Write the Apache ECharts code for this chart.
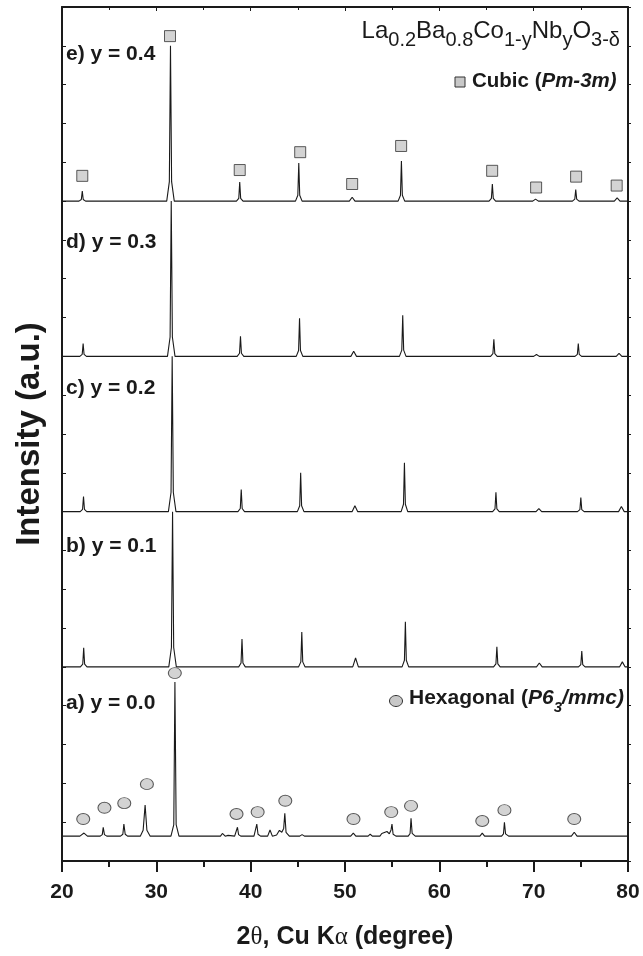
<!DOCTYPE html>
<html>
<head>
<meta charset="utf-8">
<script src="https://cdn.jsdelivr.net/npm/echarts@6/dist/echarts.min.js"></script>
<style>
html,body{margin:0;padding:0;background:#fff;}
#chart{width:643px;height:956px;}
</style>
</head>
<body>
<div id="chart"></div>
<script>
// ---- data (2theta in degrees, intensity in a.u. relative to each trace's baseline) ----
const xTickValues = [20, 30, 40, 50, 60, 70, 80];
const traceNames = ['a) y = 0.0', 'b) y = 0.1', 'c) y = 0.2', 'd) y = 0.3', 'e) y = 0.4'];
const traceOffsets = [0.64, 5, 9, 13, 17];

const traceA = [[20,0],[21.9,0],[22.33,0.08],[22.7,0],
  [24.05,0],[24.27,0.04],[24.37,0.23],[24.5,0.04],[24.75,0],
  [26.2,0],[26.45,0.05],[26.56,0.31],[26.7,0.05],[26.95,0],
  [28.3,0],[28.6,0.15],[28.81,0.8],[29.0,0.15],[29.35,0],
  [31.55,0],[31.85,0.3],[31.97,3.97],[32.1,0.3],[32.4,0],
  [36.8,0],[37.0,0.07],[37.3,0],[37.6,0.02],
  [38.3,0],[38.5,0.04],[38.6,0.23],[38.72,0.04],[38.95,0],
  [40.35,0],[40.55,0.05],[40.65,0.31],[40.78,0.05],[41.05,0],
  [41.8,0],[42.05,0.16],[42.3,0],
  [42.75,0.03],[43.05,0.15],[43.3,0.1],[43.5,0.2],[43.62,0.59],[43.75,0.1],[44.1,0],
  [45.2,0],[45.45,0.04],[45.7,0],
  [50.6,0],[50.88,0.08],[51.15,0],
  [52.45,0],[52.67,0.05],[52.9,0],
  [53.7,0],[53.9,0.07],[54.1,0.02],[54.45,0.12],[54.7,0.06],[54.88,0.16],[54.98,0.31],[55.1,0.05],[55.4,0],
  [56.7,0],[56.9,0.07],[57.0,0.46],[57.12,0.07],[57.45,0],
  [64.3,0],[64.55,0.08],[64.8,0],
  [66.6,0],[66.8,0.06],[66.9,0.36],[67.02,0.06],[67.35,0],
  [69.0,0],[69.2,0.03],[69.5,0],
  [74.0,0],[74.3,0.1],[74.6,0],[80,0]];

const traceB = [[20,0],[21.95,0],[22.2,0.07],[22.3,0.49],[22.4,0.07],[22.65,0],
  [31.32,0],[31.6,0.5],[31.72,4.0],[31.84,0.5],[32.12,0],
  [38.73,0],[38.98,0.1],[39.08,0.72],[39.18,0.1],[39.43,0],
  [45.07,0],[45.32,0.13],[45.42,0.9],[45.52,0.13],[45.77,0],
  [50.82,0],[51.12,0.23],[51.42,0],[53.5,0],
  [56.05,0],[56.3,0.17],[56.4,1.16],[56.5,0.17],[56.75,0],
  [65.75,0],[66.0,0.08],[66.1,0.52],[66.2,0.08],[66.45,0],
  [70.3,0],[70.6,0.1],[70.9,0],
  [74.75,0],[75.0,0.06],[75.1,0.41],[75.2,0.06],[75.45,0],
  [79.1,0],[79.4,0.13],[79.7,0],[80,0]];

const traceC = [[20,0],[21.93,0],[22.18,0.06],[22.28,0.39],[22.38,0.06],[22.63,0],
  [31.28,0],[31.56,0.5],[31.68,4.0],[31.8,0.5],[32.08,0],
  [38.65,0],[38.9,0.08],[39.0,0.57],[39.1,0.08],[39.35,0],
  [44.95,0],[45.2,0.15],[45.3,1.0],[45.4,0.15],[45.65,0],
  [50.75,0],[51.05,0.15],[51.35,0],
  [55.95,0],[56.2,0.19],[56.3,1.26],[56.4,0.19],[56.65,0],
  [65.65,0],[65.9,0.07],[66.0,0.5],[66.1,0.07],[66.35,0],
  [70.25,0],[70.55,0.08],[70.85,0],
  [74.65,0],[74.9,0.05],[75.0,0.36],[75.1,0.05],[75.35,0],
  [79.0,0],[79.3,0.13],[79.6,0],[80,0]];

const traceD = [[20,0],[21.89,0],[22.14,0.05],[22.24,0.33],[22.34,0.05],[22.59,0],
  [31.18,0],[31.46,0.5],[31.58,4.0],[31.7,0.5],[31.98,0],
  [38.57,0],[38.82,0.08],[38.92,0.52],[39.02,0.08],[39.27,0],
  [44.83,0],[45.08,0.15],[45.18,0.98],[45.28,0.15],[45.53,0],
  [50.62,0],[50.92,0.13],[51.22,0],
  [55.77,0],[56.02,0.16],[56.12,1.06],[56.22,0.16],[56.47,0],
  [65.43,0],[65.68,0.07],[65.78,0.44],[65.88,0.07],[66.13,0],
  [70.0,0],[70.3,0.05],[70.6,0],
  [74.38,0],[74.63,0.05],[74.73,0.33],[74.83,0.05],[75.08,0],
  [78.75,0],[79.05,0.08],[79.35,0],[80,0]];

const traceE = [[20,0],[21.8,0],[22.05,0.04],[22.15,0.26],[22.25,0.04],[22.5,0],
  [31.1,0],[31.38,0.5],[31.5,4.0],[31.62,0.5],[31.9,0],
  [38.49,0],[38.74,0.07],[38.84,0.49],[38.94,0.07],[39.19,0],
  [44.75,0],[45.0,0.15],[45.1,0.98],[45.2,0.15],[45.45,0],
  [50.46,0],[50.76,0.1],[51.06,0],
  [55.63,0],[55.88,0.15],[55.98,1.03],[56.08,0.15],[56.33,0],
  [65.27,0],[65.52,0.07],[65.62,0.44],[65.72,0.07],[65.97,0],
  [69.9,0],[70.2,0.05],[70.5,0],
  [74.11,0],[74.36,0.05],[74.46,0.3],[74.56,0.05],[74.81,0],
  [78.55,0],[78.85,0.08],[79.15,0],[80,0]];

// phase markers
const cubicX = [22.15, 31.45, 38.84, 45.25, 50.76, 55.95, 65.6, 70.26, 74.5, 78.8];
const cubicY = [17.65, 21.25, 17.8, 18.26, 17.44, 18.42, 17.78, 17.35, 17.63, 17.4];
const hexX = [22.25, 24.5, 26.6, 29.0, 31.96, 38.5, 40.74, 43.67, 50.9, 54.9, 57.0, 64.55, 66.9, 74.3];
const hexY = [1.08, 1.37, 1.49, 1.98, 4.84, 1.21, 1.26, 1.55, 1.08, 1.26, 1.42, 1.03, 1.31, 1.08];

// ---- chart ----
const FONT = '"Liberation Sans", Arial, Helvetica, sans-serif';
const traces = [traceA, traceB, traceC, traceD, traceE];
const ellipse = 'path://M0,5.5A6.5,5.5 0 1 0 13,5.5A6.5,5.5 0 1 0 0,5.5Z';

const lineSeries = traces.map((t, i) => ({
  type: 'line',
  name: traceNames[i],
  data: t.map(p => [p[0], p[1] + traceOffsets[i]]),
  showSymbol: false,
  symbol: 'none',
  lineStyle: { color: '#1a1a1a', width: 1.1 },
  z: 2,
  animation: false
}));

const chart = echarts.init(document.getElementById('chart'), null, { renderer: 'canvas' });

const labelYs = [705, 548, 390, 244, 56];

const option = {
  animation: false,
  backgroundColor: '#ffffff',
  grid: { left: 62, right: 15, top: 7, bottom: 95, containLabel: false },
  xAxis: [{
    type: 'value', position: 'bottom', min: 20, max: 80, interval: 10,
    axisLine: { show: true, onZero: false, lineStyle: { color: '#1a1a1a', width: 2 } },
    axisTick: { show: true, inside: false, length: 11, lineStyle: { color: '#1a1a1a', width: 2 } },
    minorTick: { show: true, splitNumber: 2, length: 6, lineStyle: { color: '#1a1a1a', width: 2 } },
    splitLine: { show: false },
    axisLabel: { fontFamily: FONT, fontWeight: 'bold', fontSize: 21, color: '#1a1a1a', margin: 21 },
    name: '{b|2}{s|θ}{b|, Cu K}{s|α}{b| (degree)}',
    nameLocation: 'middle', nameGap: 64,
    nameTextStyle: {
      rich: {
        b: { fontFamily: FONT, fontWeight: 'bold', fontSize: 25, color: '#1a1a1a' },
        s: { fontFamily: '"Liberation Serif", "DejaVu Serif", serif', fontSize: 25, color: '#1a1a1a' }
      }
    }
  }, {
    type: 'value', position: 'top', min: 20, max: 80, interval: 10,
    axisLine: { show: true, onZero: false, lineStyle: { color: '#1a1a1a', width: 2 } },
    axisTick: { show: true, inside: true, length: 4, lineStyle: { color: '#1a1a1a', width: 1 } },
    minorTick: { show: true, splitNumber: 2, length: 3, lineStyle: { color: '#1a1a1a', width: 1 } },
    splitLine: { show: false },
    axisLabel: { show: false }
  }],
  yAxis: [{
    type: 'value', position: 'left', min: 0, max: 22, interval: 1,
    axisLine: { show: true, onZero: false, lineStyle: { color: '#1a1a1a', width: 2 } },
    axisTick: { show: true, inside: true, length: 4, lineStyle: { color: '#1a1a1a', width: 1 } },
    splitLine: { show: false },
    axisLabel: { show: false },
    name: 'Intensity (a.u.)',
    nameLocation: 'middle', nameGap: 16, nameRotate: 90,
    nameTextStyle: { fontFamily: FONT, fontWeight: 'bold', fontSize: 33, color: '#1a1a1a' }
  }, {
    type: 'value', position: 'right', min: 0, max: 22, interval: 1,
    axisLine: { show: true, onZero: false, lineStyle: { color: '#1a1a1a', width: 2 } },
    axisTick: { show: true, inside: false, length: 3, lineStyle: { color: '#1a1a1a', width: 1 } },
    splitLine: { show: false },
    axisLabel: { show: false }
  }],
  series: lineSeries.concat([
    {
      type: 'scatter', name: 'Cubic (Pm-3m)',
      data: cubicX.map((x, i) => [x, cubicY[i]]),
      symbol: 'rect', symbolSize: [11, 11],
      itemStyle: { color: '#c8c8c8', borderColor: '#333', borderWidth: 1 },
      z: 4
    },
    {
      type: 'scatter', name: 'Hexagonal (P63/mmc)',
      data: hexX.map((x, i) => [x, hexY[i]]),
      symbol: ellipse, symbolSize: [13, 11],
      itemStyle: { color: '#c8c8c8', borderColor: '#333', borderWidth: 1 },
      z: 4
    }
  ]),
  graphic: traceNames.map((n, i) => ({
    type: 'text', left: 66, top: labelYs[i] - 12,
    style: { text: n, fontFamily: FONT, fontWeight: 'bold', fontSize: 21, fill: '#1a1a1a' },
    z: 10
  })).concat([
    {
      type: 'text', right: 23, top: 19,
      style: {
        text: '{m|La}{s|0.2}{m|Ba}{s|0.8}{m|Co}{s|1-y}{m|Nb}{s|y}{m|O}{s|3-δ}',
        rich: {
          m: { fontFamily: FONT, fontSize: 24, fill: '#1a1a1a', verticalAlign: 'top', lineHeight: 27 },
          s: { fontFamily: FONT, fontSize: 20, fill: '#1a1a1a', verticalAlign: 'top', lineHeight: 23, padding: [11, 0, 0, 0] }
        }
      },
      z: 10
    },
    {
      type: 'rect', shape: { x: 455, y: 77, width: 10, height: 10 },
      style: { fill: '#c8c8c8', stroke: '#333', lineWidth: 1 }, z: 10
    },
    {
      type: 'text', left: 472, top: 71,
      style: {
        text: '{b|Cubic (}{i|Pm-3m)}',
        rich: {
          b: { fontFamily: FONT, fontWeight: 'bold', fontSize: 20.5, fill: '#1a1a1a' },
          i: { fontFamily: FONT, fontWeight: 'bold', fontStyle: 'italic', fontSize: 20.5, fill: '#1a1a1a' }
        }
      },
      z: 10
    },
    {
      type: 'ellipse', shape: { cx: 396, cy: 701, rx: 6.5, ry: 5.5 },
      style: { fill: '#c8c8c8', stroke: '#333', lineWidth: 1 }, z: 10
    },
    {
      type: 'text', left: 409, top: 688,
      style: {
        text: '{b|Hexagonal (}{i|P6}{u|3}{i|/mmc)}',
        rich: {
          b: { fontFamily: FONT, fontWeight: 'bold', fontSize: 21, fill: '#1a1a1a', verticalAlign: 'top', lineHeight: 26 },
          i: { fontFamily: FONT, fontWeight: 'bold', fontStyle: 'italic', fontSize: 21, fill: '#1a1a1a', verticalAlign: 'top', lineHeight: 26 },
          u: { fontFamily: FONT, fontWeight: 'bold', fontStyle: 'italic', fontSize: 15, fill: '#1a1a1a', verticalAlign: 'top', lineHeight: 18, padding: [12, 0, 0, 0] }
        }
      },
      z: 10
    }
  ])
};
chart.setOption(option);
</script>
</body>
</html>
